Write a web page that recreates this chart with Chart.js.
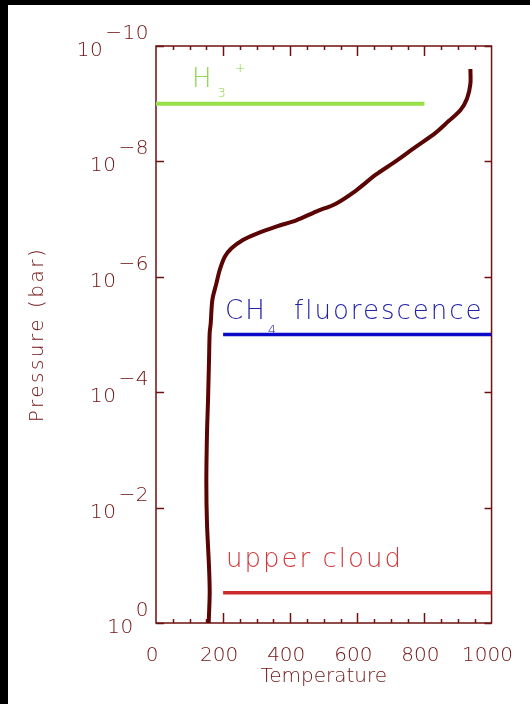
<!DOCTYPE html>
<html>
<head>
<meta charset="utf-8">
<title>Temperature / pressure profile</title>
<script src="https://cdn.jsdelivr.net/npm/chart.js@4/dist/chart.umd.min.js"></script>
<style>
  html, body { margin: 0; padding: 0; background: #fff; }
  canvas { display: block; }
</style>
</head>
<body>
<canvas id="profile" width="530" height="704"></canvas>
<script>
// temperature profile (top of atmosphere -> 1 bar)
const profileTemp = [937, 937, 927, 907, 872, 833, 774, 714, 655, 596, 536, 477, 418, 358, 299, 259, 225, 205, 190, 180, 168, 163, 160, 158, 155, 152, 150, 152, 158, 160, 157];
const profilePressure = [2.5e-10, 4.5e-10, 8.1e-10, 1.3e-9, 2.0e-9, 3.2e-9, 5.6e-9, 1.0e-8, 1.7e-8, 3.2e-8, 5.4e-8, 7.4e-8, 1.05e-7, 1.35e-7, 1.8e-7, 2.3e-7, 3.2e-7, 4.5e-7, 7.6e-7, 1.3e-6, 2.5e-6, 6.5e-6, 9.3e-6, 2.8e-5, 1.4e-4, 5.1e-4, 3.7e-3, 1.9e-2, 0.107, 0.3, 1];

// marked levels
const levelNames = ["H3+", "CH4 fluorescence", "upper cloud"];
const levelPressure = [1e-9, 1e-5, 0.3];
const levelTempFrom = [0, 200, 200];
const levelTempTo = [800, 1000, 1000];

// axes
const tempTicks = [0, 200, 400, 600, 800, 1000];
const pressureTicks = [1e-10, 1e-8, 1e-6, 1e-4, 1e-2, 1];

const maroon = "#6e1111";
const levelColors = ["#98e04a", "#0a0ac8", "#cc2b2b"];
const levelTextColors = ["#8ed84a", "#2222a8", "#d03a3a"];
const family = "'DejaVu Sans', sans-serif";

// how each level label is written (sub/superscripts)
const levelParts = [
  [{ t: "H" }, { t: "3", dx: 4, dy: 10 }, { t: "+", dx: 9, dy: -15, sup: true }],
  [{ t: "CH" }, { t: "4", dx: 1, dy: 15 }, { t: "fluorescence", dx: 18 }],
  [{ t: "upper cloud" }]
];
const levelOffset = [[36, -16.5], [2, -16], [3, -26]];

const datasets = [{
  label: "Temperature",
  data: profileTemp.map((t, i) => ({ x: t, y: profilePressure[i] })),
  borderColor: "#5a0404",
  borderWidth: 4,
  tension: 0.3,
  pointRadius: 0
}];
levelNames.forEach((name, i) => {
  datasets.push({
    label: name,
    data: [{ x: levelTempFrom[i], y: levelPressure[i] }, { x: levelTempTo[i], y: levelPressure[i] }],
    borderColor: levelColors[i],
    borderWidth: i === 0 ? 4 : 3.5,
    pointRadius: 0
  });
});

const frame = {
  id: "frame",
  beforeDraw(chart) {
    const { ctx, width, height } = chart;
    ctx.save();
    ctx.fillStyle = "#000";
    ctx.fillRect(0, 0, width, height);
    ctx.fillStyle = "#fff";
    ctx.fillRect(8, 5, width - 8, height - 5);
    ctx.restore();
  },
  beforeDatasetsDraw(chart) {
    const { ctx, chartArea: a, scales: { x, y } } = chart;
    ctx.save();
    ctx.strokeStyle = maroon;
    ctx.lineWidth = 1.5;
    ctx.strokeRect(a.left, a.top, a.right - a.left, a.bottom - a.top);
    ctx.beginPath();
    // inward ticks, minor every 50
    for (let t = x.min + 50; t < x.max; t += 50) {
      const px = Math.round(x.getPixelForValue(t)) + 0.5;
      const len = t % 200 === 0 ? 10 : 4;
      ctx.moveTo(px, a.bottom); ctx.lineTo(px, a.bottom - len);
      ctx.moveTo(px, a.top); ctx.lineTo(px, a.top + len);
    }
    pressureTicks.forEach(p => {
      const py = Math.round(y.getPixelForValue(p)) + 0.5;
      ctx.moveTo(a.left, py); ctx.lineTo(a.left + 8, py);
      ctx.moveTo(a.right, py); ctx.lineTo(a.right - 7, py);
    });
    ctx.stroke();
    ctx.restore();
  },
  afterDraw(chart) {
    const { ctx, chartArea: a, scales: { x, y } } = chart;
    ctx.save();
    ctx.fillStyle = maroon;
    ctx.font = "200 20px " + family;
    ctx.letterSpacing = "0.5px";
    ctx.textBaseline = "alphabetic";
    // y tick labels 10^n
    pressureTicks.forEach(p => {
      const py = y.getPixelForValue(p);
      const n = Math.round(Math.log10(p));
      const exp = n < 0 ? "\u2212" + (-n) : String(n);
      const we = ctx.measureText(exp).width;
      const wb = ctx.measureText("10").width;
      const right = 149;
      ctx.textAlign = "left";
      ctx.fillText("10", right - we - wb - 2, py + 10);
      ctx.fillText(exp, right - we, py - 7);
    });
    // y axis title
    ctx.save();
    ctx.translate(38, (a.top + a.bottom) / 2);
    ctx.rotate(-Math.PI / 2);
    ctx.letterSpacing = "2.5px";
    ctx.textAlign = "center";
    ctx.textBaseline = "middle";
    ctx.fillText("Pressure (bar)", 0, 0);
    ctx.restore();

    // level labels
    levelParts.forEach((parts, i) => {
      let px = x.getPixelForValue(levelTempFrom[i]) + levelOffset[i][0];
      const py = y.getPixelForValue(levelPressure[i]) + levelOffset[i][1];
      ctx.fillStyle = levelTextColors[i];
      ctx.textAlign = "left";
      parts.forEach(part => {
        const small = part.dy !== undefined;
        ctx.font = (small ? "200 13px " : "200 26px ") + family;
        ctx.letterSpacing = small ? "0px" : "2px";
        px += part.dx || 0;
        ctx.fillText(part.t, px, py + (part.dy || 0));
        if (!part.sup) px += ctx.measureText(part.t).width;
      });
    });
    ctx.restore();
  }
};

new Chart(document.getElementById("profile"), {
  type: "scatter",
  data: { datasets: datasets },
  options: {
    responsive: false,
    animation: false,
    showLine: true,
    layout: { padding: { top: 46, right: 37, left: 0, bottom: 0 } },
    plugins: { legend: { display: false }, tooltip: { enabled: false } },
    scales: {
      x: {
        type: "linear",
        min: 0,
        max: 1000,
        afterBuildTicks: s => { s.ticks = tempTicks.map(v => ({ value: v })); },
        afterFit: s => { s.height = 81; },
        grid: { display: false },
        border: { display: false },
        ticks: {
          color: maroon,
          padding: 13,
          labelOffset: -4,
          maxRotation: 0,
          autoSkip: false,
          callback: v => String(v),
          font: { family: family, size: 20, weight: "200" }
        },
        title: {
          display: true,
          text: "Temperature",
          color: maroon,
          padding: { top: 0, bottom: 15 },
          font: { family: family, size: 20, weight: "200" }
        }
      },
      y: {
        type: "logarithmic",
        reverse: true,
        min: 1e-10,
        max: 1,
        afterBuildTicks: s => { s.ticks = pressureTicks.map(v => ({ value: v })); },
        afterFit: s => { s.width = 156; },
        grid: { display: false },
        border: { display: false },
        ticks: { display: false }
      }
    }
  },
  plugins: [frame]
});
</script>
</body>
</html>
